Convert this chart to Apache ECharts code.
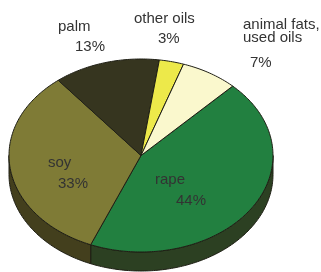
<!DOCTYPE html>
<html><head><meta charset="utf-8">
<script src="https://cdn.jsdelivr.net/npm/echarts@6/dist/echarts.min.js"></script>
<style>html,body{margin:0;padding:0;background:#fff}#c{width:321px;height:272px}</style>
</head><body><div id="c"></div>
<script>
var categories = ['rape', 'soy', 'palm', 'other oils', 'animal fats,\nused oils'];
var values = [44, 33, 13, 3, 7];
var topColors = ['#228040', '#7f7b36', '#36351f', '#ede94a', '#faf8cd'];
var sideColors = ['#2c4022', '#433f1d', '#222214', '#8a8830', '#99977c'];

var G = {cx: 141, cy: 155.5, rx: 132, ry: 96.5, depth: 19, start: -46};
var total = values.reduce(function (a, b) { return a + b; }, 0);
function range(i) {
  var s = 0; for (var k = 0; k < i; k++) s += values[k];
  var a = G.start + s / total * 360, b = a + values[i] / total * 360;
  return [a, b];
}
function pt(t, dy) {
  var r = t * Math.PI / 180;
  return [G.cx + G.rx * Math.cos(r), G.cy + G.ry * Math.sin(r) + (dy || 0)];
}
function arc(a, b, dy) {
  var pts = [], n = Math.max(2, Math.ceil(Math.abs(b - a)));
  for (var j = 0; j <= n; j++) pts.push(pt(a + (b - a) * j / n, dy));
  return pts;
}
function sideItem(params, api) {
  var i = params.dataIndex, r = range(i);
  var a = r[0], b = r[1];
  var pieces = [];
  [[0, 180], [360, 540], [-360, -180]].forEach(function (w) {
    var lo = Math.max(a, w[0]), hi = Math.min(b, w[1]);
    if (hi > lo) pieces.push([lo, hi]);
  });
  var children = pieces.map(function (p) {
    var pts = arc(p[0], p[1], 0).concat(arc(p[1], p[0], G.depth));
    return {type: 'polygon', shape: {points: pts},
      style: {fill: sideColors[i], stroke: '#1e1e14', lineWidth: 1}};
  });
  return {type: 'group', children: children};
}
function topItem(params, api) {
  var i = params.dataIndex, r = range(i);
  var pts = [[G.cx, G.cy]].concat(arc(r[0], r[1], 0));
  return {type: 'polygon', shape: {points: pts},
    style: {fill: topColors[i], stroke: '#1e1e14', lineWidth: 1, lineJoin: 'round'}};
}
var seriesData = values.map(function (v, i) { return {name: categories[i], value: v}; });
var font = '15px "Liberation Sans", Arial, sans-serif';
function label(x, y, txt, lh) {
  return {type: 'text', left: x, top: y, z: 100,
    style: {text: txt, font: font, fill: '#333', lineHeight: lh || 15}};
}
var chart = echarts.init(document.getElementById('c'), null, {renderer: 'canvas'});
chart.setOption({
  animation: false,
  series: [
    {type: 'custom', coordinateSystem: 'none', renderItem: sideItem, data: seriesData, z: 1, silent: true},
    {type: 'custom', coordinateSystem: 'none', renderItem: topItem, data: seriesData, z: 2, silent: true}
  ],
  graphic: {elements: [
    label(58, 19, categories[2]), label(75, 39, values[2] + '%'),
    label(134, 11, categories[3]), label(158, 31, values[3] + '%'),
    label(243, 17, categories[4], 13), label(250, 55, values[4] + '%'),
    label(48, 155, categories[1]), label(58, 176, values[1] + '%'),
    label(155, 172, categories[0]), label(176, 193, values[0] + '%')
  ]}
});
</script></body></html>
